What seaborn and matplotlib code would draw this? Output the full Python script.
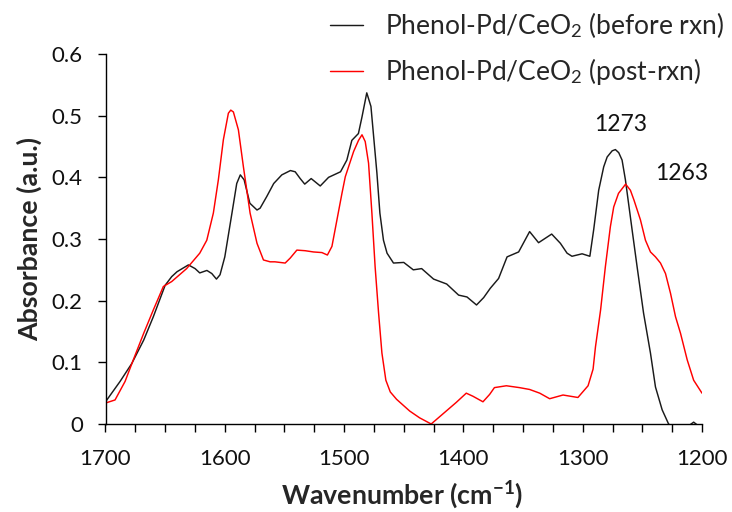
import numpy as np
import pandas as pd
import matplotlib
matplotlib.use("Agg")
import matplotlib.pyplot as plt
from matplotlib.lines import Line2D
import seaborn as sns

# ---- data ----
wn_before = [1700, 1687.8, 1678, 1668, 1659.9, 1650, 1644.5, 1640, 1630.5, 1624.9, 1621, 1615,
             1610.9, 1607, 1604, 1600, 1594, 1590, 1587, 1583.8, 1579, 1573, 1570.4, 1564.8,
             1559, 1552.2, 1545, 1541, 1536.8, 1533, 1527.6, 1520, 1513, 1503, 1497.7, 1493.5,
             1488, 1485, 1481, 1477.5, 1472.5, 1470, 1467, 1464, 1458.6, 1450, 1442, 1435,
             1425, 1414, 1404, 1397, 1389, 1383, 1377.5, 1370.5, 1363.4, 1353.7, 1344.5, 1337,
             1326, 1318.7, 1313.1, 1309, 1300.5, 1294, 1290.8, 1286.6, 1282.4, 1279.5, 1275.3,
             1272.6, 1269.8, 1267, 1264.2, 1258.6, 1254.4, 1249, 1243.2, 1239, 1233.4, 1228,
             1220, 1212, 1207, 1203, 1200]
abs_before = [0.036, 0.069, 0.098, 0.136, 0.174, 0.225, 0.239, 0.247, 0.258, 0.252, 0.245, 0.249,
              0.244, 0.235, 0.242, 0.271, 0.342, 0.390, 0.404, 0.396, 0.358, 0.347, 0.350, 0.369,
              0.390, 0.404, 0.411, 0.409, 0.398, 0.389, 0.398, 0.386, 0.400, 0.409, 0.428, 0.460,
              0.471, 0.498, 0.537, 0.515, 0.407, 0.342, 0.298, 0.277, 0.261, 0.262, 0.250, 0.252,
              0.235, 0.227, 0.209, 0.206, 0.193, 0.205, 0.220, 0.236, 0.271, 0.279, 0.312, 0.294,
              0.308, 0.293, 0.277, 0.272, 0.276, 0.272, 0.315, 0.379, 0.417, 0.433, 0.443,
              0.445, 0.440, 0.428, 0.396, 0.315, 0.255, 0.180, 0.115, 0.060, 0.023, 0.0,
              -0.010, -0.004, 0.003, -0.003, -0.010]

wn_post = [1700, 1692, 1683.6, 1676.7, 1668, 1659.9, 1651.5, 1644.5, 1632, 1621, 1615.1, 1609.6,
           1605.4, 1601.2, 1597, 1595, 1592.8, 1588.6, 1584.4, 1578.8, 1573, 1567.6, 1562, 1558,
           1549.4, 1545.2, 1539.6, 1532.6, 1525.7, 1518.6, 1514, 1510.2, 1506, 1501.8, 1499,
           1492, 1487.9, 1485, 1482.3, 1479.5, 1476.7, 1474, 1471.1, 1468.3, 1465, 1461.3, 1456,
           1445, 1436.7, 1427, 1414.4, 1406, 1397.6, 1392, 1383.6, 1378, 1374, 1364, 1353,
           1344.5, 1336, 1327.7, 1316.5, 1304, 1295.5, 1291.3, 1289.3, 1285, 1281, 1276.8, 1274,
           1270, 1264, 1260, 1257, 1251.6, 1247.4, 1243.2, 1239, 1234.8, 1230.6, 1226.4, 1222.2,
           1218, 1212.4, 1207, 1200]
abs_post = [0.034, 0.039, 0.069, 0.104, 0.147, 0.185, 0.223, 0.231, 0.252, 0.277, 0.298, 0.342,
            0.396, 0.461, 0.504, 0.509, 0.506, 0.477, 0.417, 0.342, 0.293, 0.266, 0.263, 0.263,
            0.261, 0.269, 0.282, 0.281, 0.279, 0.278, 0.274, 0.288, 0.331, 0.374, 0.401,
            0.442, 0.460, 0.469, 0.458, 0.423, 0.342, 0.255, 0.180, 0.115, 0.071, 0.052, 0.040,
            0.021, 0.010, 0.0, 0.021, 0.035, 0.050, 0.045, 0.036, 0.048, 0.059, 0.062, 0.059,
            0.056, 0.050, 0.041, 0.047, 0.043, 0.062, 0.089, 0.125, 0.185, 0.255, 0.320, 0.352,
            0.374, 0.389, 0.379, 0.363, 0.331, 0.298, 0.279, 0.271, 0.261, 0.244, 0.212, 0.174,
            0.147, 0.104, 0.071, 0.050]

series_names = ["Phenol-Pd/CeO$_2$ (before rxn)", "Phenol-Pd/CeO$_2$ (post-rxn)"]
series_colors = ["#1a1a1a", "#ff0000"]
peak_labels = ["1273", "1263"]
peak_label_pos = [(1268.4, 0.486), (1217.2, 0.406)]
x_ticks = [1700, 1600, 1500, 1400, 1300, 1200]
y_ticks = [0, 0.1, 0.2, 0.3, 0.4, 0.5, 0.6]
y_ticklabels = ["0", "0.1", "0.2", "0.3", "0.4", "0.5", "0.6"]

df = pd.concat([
    pd.DataFrame({"wn": wn_before, "abs": abs_before, "sample": series_names[0]}),
    pd.DataFrame({"wn": wn_post, "abs": abs_post, "sample": series_names[1]}),
], ignore_index=True)

sns.set_theme(style="ticks")
plt.rcParams["font.family"] = ["Lato", "DejaVu Sans"]
plt.rcParams["mathtext.fontset"] = "custom"
plt.rcParams["mathtext.rm"] = "Lato"
plt.rcParams["mathtext.it"] = "Lato:italic"
plt.rcParams["mathtext.bf"] = "Lato:bold"

fig = plt.figure(figsize=(7.32, 5.12), dpi=100)
ax = fig.add_axes([105.5 / 732, 1 - 424 / 512, (702 - 105.5) / 732, (424 - 54) / 512])

sns.lineplot(data=df, x="wn", y="abs", hue="sample", palette=dict(zip(series_names, series_colors)),
             ax=ax, linewidth=1.05, sort=False, legend=False)

ax.set_xlim(1700, 1200)
ax.set_ylim(0, 0.6)
ax.set_xticks(x_ticks)
ax.set_xticks(np.arange(1200, 1701, 25), minor=True)
ax.set_yticks(y_ticks)
ax.set_yticklabels(y_ticklabels)
ax.tick_params(axis="both", which="both", direction="out", length=5.8, width=1.0,
               color="black", labelsize=16, labelcolor="#111111")
ax.tick_params(axis="x", which="both", pad=12)
ax.tick_params(axis="y", which="both", pad=10.5)
for s in ["top", "right"]:
    ax.spines[s].set_visible(False)
for s in ["left", "bottom"]:
    ax.spines[s].set_linewidth(1.0)
    ax.spines[s].set_color("black")

ax.set_xlabel(r"Wavenumber (cm$^{\mathbf{-1}}$)", fontsize=19.3, fontweight="bold")
ax.set_ylabel("Absorbance (a.u.)", fontsize=19.3, fontweight="bold")
ax.xaxis.label.set_va("center")
ax.yaxis.label.set_va("center")
ax.xaxis.set_label_coords((402 - 105.5) / 596.5, (424 - 495) / 370)
ax.yaxis.set_label_coords((29 - 105.5) / 596.5, 0.5)

for lab, (px, py) in zip(peak_labels, peak_label_pos):
    ax.text(px, py, lab, fontsize=16.5, ha="center", va="center", color="#111111")

handles = [Line2D([], [], color=c, linewidth=1.05) for c in series_colors]
fig.legend(handles, series_names, loc="upper left", bbox_to_anchor=(330 / 732, 1 - 10 / 512),
           frameon=False, fontsize=19, handlelength=1.25, handletextpad=0.83,
           labelspacing=0.6, borderpad=0, borderaxespad=0)

fig.savefig("out.png", dpi=100)
